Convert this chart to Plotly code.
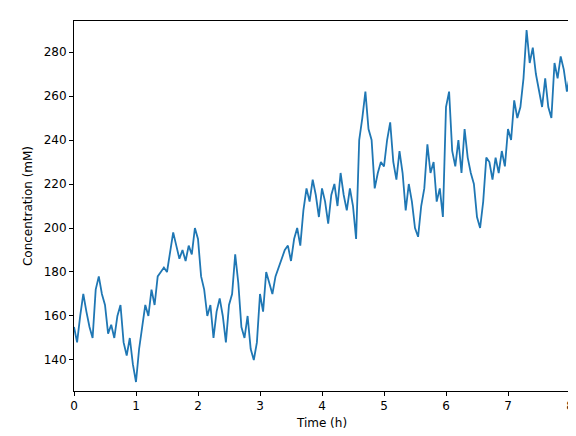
import plotly.graph_objects as go

time_h = [i * 0.05 for i in range(161)]
conc = [155, 148, 160, 170, 162, 155, 150, 172, 178, 170, 165, 152, 156, 150, 160, 165, 148, 142, 150, 138,
        130, 145, 155, 165, 160, 172, 165, 178, 180, 182, 180, 190, 198, 192, 186, 190, 185, 192, 188, 200,
        195, 178, 172, 160, 165, 150, 162, 168, 160, 148, 165, 170, 188, 175, 155, 150, 160, 145, 140, 148,
        170, 162, 180, 175, 170, 178, 182, 185, 190, 192, 185, 195, 200, 192, 208, 218, 212, 222, 215, 205,
        218, 212, 202, 215, 220, 210, 225, 215, 208, 218, 210, 195, 240, 250, 262, 245, 240, 218, 225, 230,
        228, 240, 248, 230, 222, 235, 225, 208, 220, 212, 200, 196, 210, 218, 238, 225, 230, 212, 218, 205,
        255, 262, 235, 228, 240, 225, 245, 232, 225, 220, 205, 200, 212, 232, 230, 222, 232, 225, 235, 228,
        245, 240, 258, 250, 255, 268, 290, 275, 282, 270, 262, 255, 268, 255, 250, 275, 268, 278, 272, 262,
        270]

fig = go.Figure()
fig.add_trace(go.Scatter(x=time_h, y=conc, mode='lines',
                         line=dict(color='#1f77b4', width=1.8)))

axis = dict(showline=True, linecolor='black', linewidth=1, mirror=True, automargin=False,
            ticks='outside', ticklen=4, tickcolor='black', showgrid=False, zeroline=False,
            tickfont=dict(family='DejaVu Sans', size=12, color='black'))
fig.update_xaxes(range=[0, 8], dtick=1,
                 title=dict(text='Time (h)', font=dict(size=12), standoff=6), **axis)
fig.update_yaxes(range=[125.9, 294.1], tickvals=[140, 160, 180, 200, 220, 240, 260, 280],
                 title=dict(text='Concentration (mM)', font=dict(size=12), standoff=8), **axis)
fig.update_layout(width=576, height=436, plot_bgcolor='white', paper_bgcolor='white',
                  showlegend=False, font=dict(family='DejaVu Sans', color='black'),
                  margin=dict(l=66, r=14, t=13, b=53))
fig.write_html("out.html")
